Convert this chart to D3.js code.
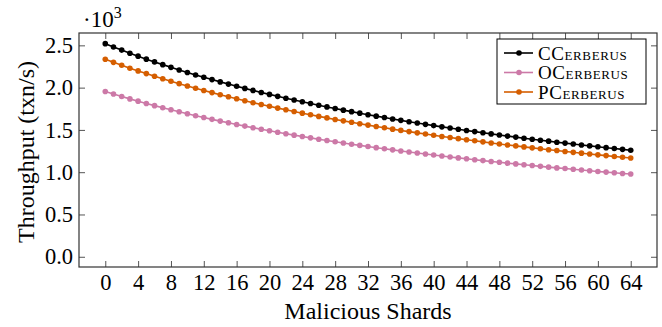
<!DOCTYPE html>
<html>
<head>
<meta charset="utf-8">
<script src="https://cdn.jsdelivr.net/npm/d3@7"></script>
</head>
<body style="margin:0">
<div id="chart"></div>
<script>
// malicious shards 0..64 (one point per shard count)
const shards = d3.range(0, 65);
const xTicks = d3.range(0, 65, 4);
const yTicks = [0, 500, 1000, 1500, 2000, 2500];

// throughput in txn/s
const cCerberus = [2520, 2481, 2444, 2407, 2372, 2337, 2304, 2272, 2240, 2209, 2179, 2150, 2122, 2095, 2068, 2042,
  2016, 1991, 1967, 1943, 1920, 1897, 1875, 1854, 1833, 1812, 1792, 1772, 1753, 1734, 1716, 1698,
  1680, 1663, 1646, 1629, 1613, 1597, 1581, 1566, 1551, 1536, 1522, 1507, 1493, 1480, 1466, 1453,
  1440, 1427, 1415, 1402, 1390, 1378, 1367, 1355, 1344, 1333, 1322, 1311, 1301, 1290, 1280, 1270, 1260];
const oCerberus = [1955, 1925, 1896, 1867, 1840, 1813, 1787, 1762, 1738, 1714, 1691, 1668, 1646, 1625, 1604, 1584,
  1564, 1545, 1526, 1507, 1490, 1472, 1455, 1438, 1422, 1406, 1390, 1375, 1360, 1345, 1331, 1317,
  1303, 1290, 1277, 1264, 1251, 1239, 1227, 1215, 1203, 1192, 1180, 1169, 1159, 1148, 1137, 1127,
  1117, 1107, 1098, 1088, 1079, 1069, 1060, 1051, 1043, 1034, 1026, 1017, 1009, 1001, 993, 985, 978];
const pCerberus = [2335, 2299, 2264, 2230, 2198, 2166, 2135, 2105, 2076, 2047, 2019, 1993, 1966, 1941, 1916, 1892,
  1868, 1845, 1822, 1800, 1779, 1758, 1738, 1718, 1698, 1679, 1660, 1642, 1624, 1607, 1590, 1573,
  1557, 1541, 1525, 1509, 1494, 1480, 1465, 1451, 1437, 1423, 1410, 1397, 1384, 1371, 1359, 1346,
  1334, 1322, 1311, 1299, 1288, 1277, 1266, 1256, 1245, 1235, 1225, 1215, 1205, 1196, 1186, 1177, 1168];

const seriesNames = ['CCerberus', 'OCerberus', 'PCerberus'];
const seriesColors = ['#000000', '#cc79a7', '#d55e00'];
const seriesValues = [cCerberus, oCerberus, pCerberus];

const width = 662, height = 327;
const margin = {top: 33, right: 5, bottom: 60, left: 79};
const iw = width - margin.left - margin.right;
const ih = height - margin.top - margin.bottom;

const svg = d3.select('#chart').append('svg')
  .attr('width', width)
  .attr('height', height)
  .style('display', 'block');

const g = svg.append('g').attr('transform', `translate(${margin.left},${margin.top})`);

const x = d3.scaleLinear().domain([-3.2, 67.2]).range([0, iw]);
const y = d3.scaleLinear().domain([-121, 2646]).range([ih, 0]);

const tickLen = 6;

// x axis (bottom + mirrored top ticks)
g.append('g').attr('transform', `translate(0,${ih})`)
  .call(d3.axisBottom(x).tickValues(xTicks).tickSize(-tickLen).tickPadding(7).tickFormat(d3.format('d')));
g.append('g')
  .call(d3.axisTop(x).tickValues(xTicks).tickSize(-tickLen).tickFormat(''));

// y axis (left + mirrored right ticks)
g.append('g')
  .call(d3.axisLeft(y).tickValues(yTicks).tickSize(-tickLen).tickPadding(6).tickFormat(d => (d / 1000).toFixed(1)));
g.append('g').attr('transform', `translate(${iw},0)`)
  .call(d3.axisRight(y).tickValues(yTicks).tickSize(-tickLen).tickFormat(''));

g.selectAll('.domain').remove();
g.selectAll('.tick line').attr('stroke', '#555').attr('stroke-width', 1);
g.selectAll('.tick text').attr('font-size', 22.5).attr('fill', '#000');

// frame
g.append('rect')
  .attr('x', 0).attr('y', 0).attr('width', iw).attr('height', ih)
  .attr('fill', 'none').attr('stroke', '#333').attr('stroke-width', 1.2);

const line = d3.line()
  .x((d, i) => x(shards[i]))
  .y(d => y(d));

seriesValues.forEach((vals, k) => {
  g.append('path')
    .datum(vals)
    .attr('fill', 'none')
    .attr('stroke', seriesColors[k])
    .attr('stroke-width', 1.6)
    .attr('d', line);
  g.append('g').selectAll('circle')
    .data(vals)
    .enter()
    .append('circle')
    .attr('cx', (d, i) => x(shards[i]))
    .attr('cy', d => y(d))
    .attr('r', 2.8)
    .attr('fill', seriesColors[k]);
});

// scale label
const mult = svg.append('text')
  .attr('x', 83).attr('y', 27)
  .attr('font-size', 23);
mult.append('tspan').text('\u00b710');
mult.append('tspan').attr('dy', -9).attr('font-size', 16).text('3');

// axis labels
svg.append('text')
  .attr('x', margin.left + x(32)).attr('y', 319)
  .attr('text-anchor', 'middle')
  .attr('font-size', 24)
  .text('Malicious Shards');

svg.append('text')
  .attr('transform', `translate(34,${margin.top + ih / 2 + 2}) rotate(-90)`)
  .attr('text-anchor', 'middle')
  .attr('font-size', 24)
  .text('Throughput (txn/s)');

// legend
const legend = svg.append('g').attr('transform', 'translate(497,39)');
legend.append('rect')
  .attr('width', 149).attr('height', 65)
  .attr('fill', '#fff').attr('stroke', '#000').attr('stroke-width', 1);

seriesNames.forEach((name, k) => {
  const ly = 14 + k * 19.5;
  legend.append('line')
    .attr('x1', 7).attr('x2', 36).attr('y1', ly).attr('y2', ly)
    .attr('stroke', seriesColors[k]).attr('stroke-width', 1.6);
  legend.append('circle')
    .attr('cx', 22).attr('cy', ly).attr('r', 2.8)
    .attr('fill', seriesColors[k]);
  legend.append('text')
    .attr('x', 41).attr('y', ly + 6.5)
    .attr('font-size', 19)
    .attr('letter-spacing', 0.6)
    .style('font-variant', 'small-caps')
    .text(name);
});

// serif font on every label
svg.selectAll('text')
  .attr('font-family', 'Liberation Serif')
  .style('font-family', '"Liberation Serif"');
</script>
</body>
</html>
